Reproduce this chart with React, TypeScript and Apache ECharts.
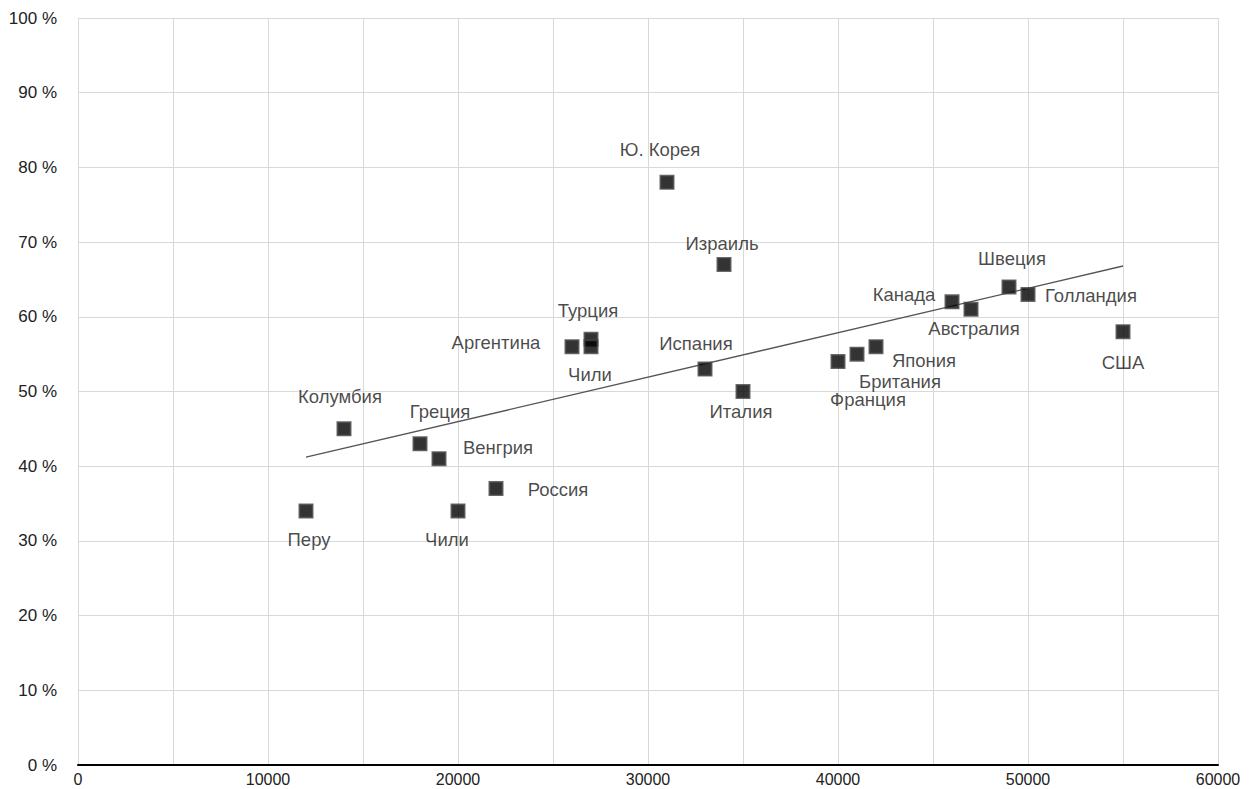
import React, { useEffect, useRef } from "react";
import * as echarts from "echarts";

const countries = [
  "Перу", "Колумбия", "Греция", "Венгрия", "Чили", "Россия", "Аргентина",
  "Турция", "Чили", "Ю. Корея", "Израиль", "Испания", "Италия", "Франция",
  "Британия", "Япония", "Канада", "Австралия", "Швеция", "Голландия", "США",
];
const gdp = [
  12000, 14000, 18000, 19000, 20000, 22000, 26000,
  27000, 27000, 31000, 34000, 33000, 35000, 40000,
  41000, 42000, 46000, 47000, 49000, 50000, 55000,
];
const share = [
  34, 45, 43, 41, 34, 37, 56,
  57, 56, 78, 67, 53, 50, 54,
  55, 56, 62, 61, 64, 63, 58,
];
const trendX = [12000, 55000];
const trendY = [41.2, 66.8];

// label offsets (layout only), relative to marker centre
const labelOffsets: [number, number][] = [
  [3, 28], [-4, -32], [20, -32], [59, -11], [-11, 28], [62, 1], [-76, -4],
  [-3, -29], [-1, 28], [-7, -33], [-2, -21], [-9, -26], [-2, 20], [30, 38],
  [43, 27], [48, 14], [-48, -7], [3, 19], [3, -28], [63, 1], [0, 31],
];

const FONT = "'Liberation Sans', Arial, Helvetica, sans-serif";

export default function App() {
  const ref = useRef<HTMLDivElement>(null);
  useEffect(() => {
    if (!ref.current) return;
    const chart = echarts.init(ref.current, undefined, { renderer: "svg" });
    const points = countries.map((name, i) => ({
      name,
      value: [gdp[i], share[i]],
      label: {
        show: true,
        position: "inside",
        align: "center",
        verticalAlign: "middle",
        offset: labelOffsets[i],
        formatter: name,
        color: "#1a1a1a",
        fontSize: 18.5,
        lineHeight: 18,
        fontFamily: FONT,
      },
    }));
    chart.setOption({
      animation: false,
      textStyle: { fontFamily: FONT },
      grid: { left: 78, right: 34, top: 18, bottom: 24, containLabel: false },
      xAxis: {
        type: "value",
        min: 0,
        max: 60000,
        interval: 10000,
        axisLine: { show: true, onZero: false, lineStyle: { color: "#000", width: 2 } },
        axisTick: { show: false },
        axisLabel: {
          color: "#222",
          fontSize: 16,
          margin: 6,
          fontFamily: FONT,
          formatter: (v: number) => String(v),
        },
        splitLine: { show: true, lineStyle: { color: "#d9d9d9", width: 1 } },
        minorTick: { show: false, splitNumber: 2 },
        minorSplitLine: { show: true, lineStyle: { color: "#d9d9d9", width: 1 } },
      },
      yAxis: {
        type: "value",
        min: 0,
        max: 100,
        interval: 10,
        axisLine: { show: false },
        axisTick: { show: false },
        axisLabel: {
          color: "#222",
          fontSize: 17,
          margin: 21,
          fontFamily: FONT,
          formatter: (v: number) => `${v} %`,
        },
        splitLine: { show: true, lineStyle: { color: "#d9d9d9", width: 1 } },
      },
      series: [
        {
          type: "line",
          data: trendX.map((x, i) => [x, trendY[i]]),
          showSymbol: false,
          symbol: "none",
          lineStyle: { color: "#555", width: 1.3 },
          silent: true,
          z: 1,
        },
        {
          type: "scatter",
          symbol: "rect",
          symbolSize: 13,
          itemStyle: { color: "#000", borderColor: "#444", borderWidth: 2 },
          data: points,
          z: 2,
        },
      ],
    });
    return () => chart.dispose();
  }, []);
  return (
    <div
      ref={ref}
      style={{ position: "absolute", left: 0, top: 0, width: 1252, height: 789, background: "#fff" }}
    />
  );
}
